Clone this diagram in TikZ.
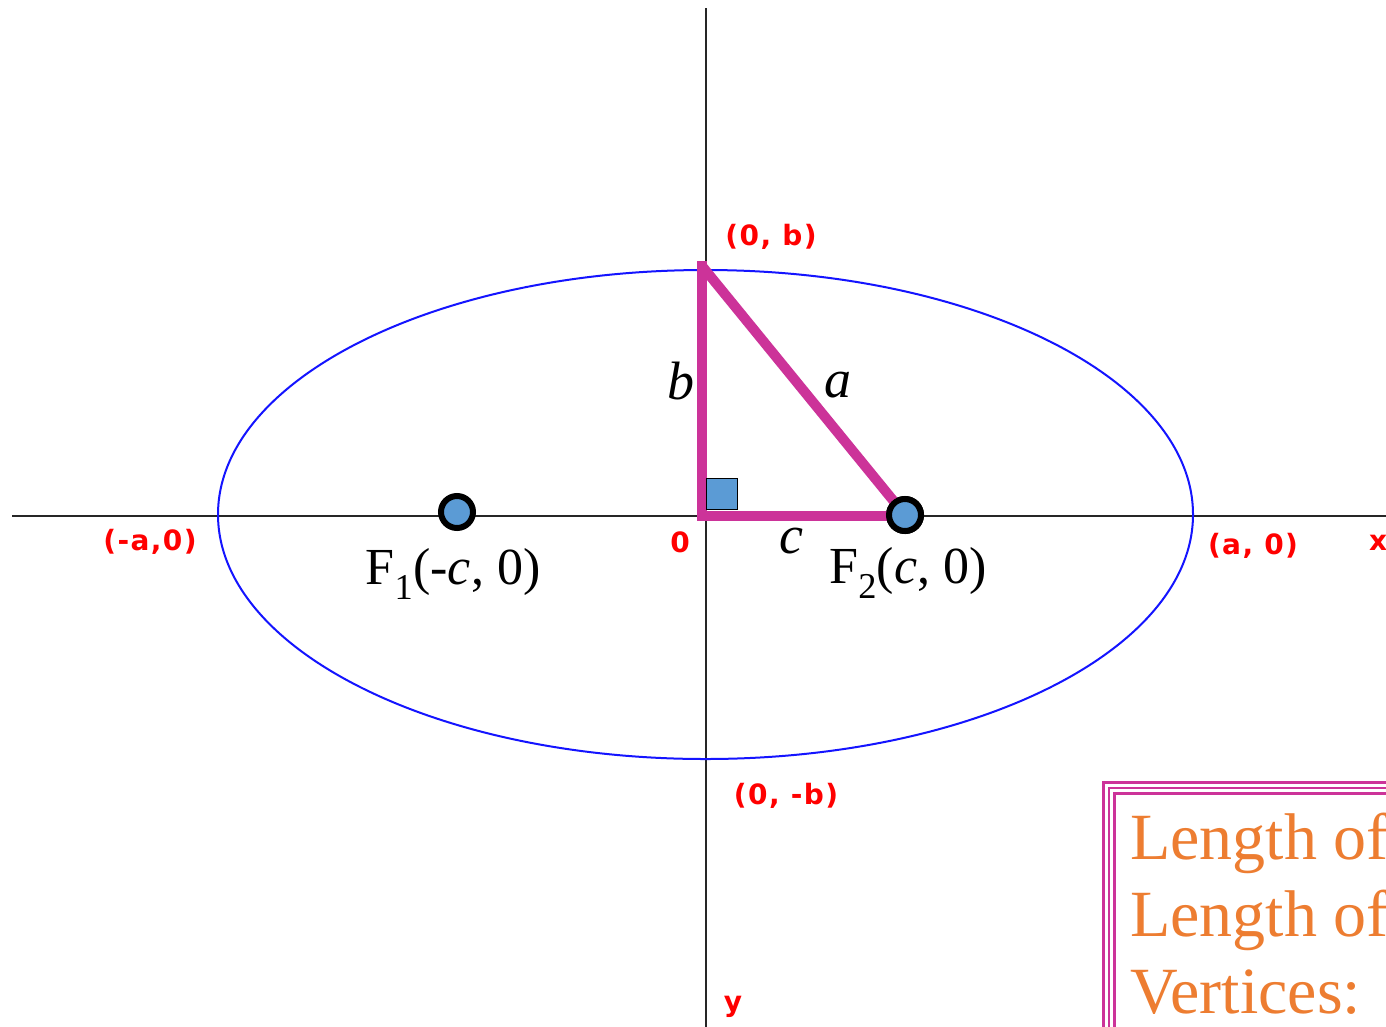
\documentclass[tikz,border=0pt]{standalone}
\usepackage{fontspec}
\setmainfont{Liberation Serif}
\newfontfamily\redfont[LetterSpace=5]{DejaVu Sans}
\definecolor{magline}{RGB}{204,51,153}
\definecolor{dotblue}{RGB}{91,155,213}
\definecolor{ellblue}{RGB}{20,20,255}
\definecolor{lblred}{RGB}{255,0,0}
\definecolor{boxorange}{RGB}{237,125,49}
\begin{document}
\begin{tikzpicture}[x=1pt,y=-1pt,
  axis/.style={draw=black!85,line width=1.8pt},
  redlbl/.style={text=lblred,font=\redfont\bfseries\fontsize{28}{30}\selectfont,inner sep=0pt},
  mathlbl/.style={font=\fontsize{54}{60}\selectfont\itshape,inner sep=0pt},
  focuslbl/.style={font=\fontsize{52}{58}\selectfont,inner sep=0pt},
  focusdot/.style={circle,draw=black,line width=6pt,fill=dotblue,minimum size=32pt,inner sep=0pt},
  tri/.style={draw=magline,line width=10pt}]
\useasboundingbox (0,0) rectangle (1386,1026);
\clip (0,0) rectangle (1386,1026);
\fill[white] (0,0) rectangle (1386,1026);
% axes
\coordinate (xl) at (12,516);
\coordinate (xr) at (1400,516);
\coordinate (yt) at (706,8);
\coordinate (yb) at (706,1040);
\draw[axis] (xl) -- (xr);
\draw[axis] (yt) -- (yb);
% ellipse
\draw[ellblue,line width=2pt] (705.5,514.5) ellipse [x radius=487.5pt, y radius=244.5pt];
% triangle
\coordinate (top) at (702,266);
\coordinate (orig) at (702,516);
\node[focusdot] (F2) at (905,515) {};
\node[focusdot] (F1) at (457,512) {};
\coordinate (corner) at (orig -| F2);
\draw[tri,line join=miter,line cap=rect] (top) -- (orig) -- (corner);
\draw[tri] (top) -- (F2.center);
\node[focusdot] at (F2) {};
\node[draw=black,line width=1.2pt,fill=dotblue,minimum size=31pt,inner sep=0pt,anchor=south west] (sq) at (706,510) {};
% labels
\node[mathlbl] (lb) at (681,381) {b};
\node[mathlbl] (la) at (838,385) {a};
\node[mathlbl] (lc) at (791,541) {c};
\node[focuslbl] (f1l) at (453,574) {F\textsubscript{1}(-\textit{c}, 0)};
\node[focuslbl] (f2l) at (908,573) {F\textsubscript{2}(\textit{c}, 0)};
\node[redlbl] (l0b) at (771,237) {(0, b)};
\node[redlbl] (lma) at (150,542) {(-a,0)};
\node[redlbl] (lo) at (680,542) {0};
\node[redlbl] (lpa) at (1253,546) {(a, 0)};
\node[redlbl,anchor=west] (lx) at (1369,543) {x};
\node[redlbl] (lmb) at (786,796) {(0, -b)};
\node[redlbl] (ly) at (733,1007) {y};
% box
\draw[magline,line width=3pt] (1103.5,782.5) rectangle (1420,1060);
\draw[magline,line width=2pt] (1109,788) rectangle (1420,1060);
\draw[magline,line width=3pt] (1114.5,793.5) rectangle (1420,1060);
\node[anchor=base west,text=boxorange,font=\fontsize{66}{77}\selectfont,inner sep=0pt] (t1) at (1130,859) {Length of};
\node[anchor=base west,text=boxorange,font=\fontsize{66}{77}\selectfont,inner sep=0pt] (t2) at (1130,936) {Length of};
\node[anchor=base west,text=boxorange,font=\fontsize{66}{77}\selectfont,inner sep=0pt] (t3) at (1130,1013) {Vertices:};
\end{tikzpicture}
\end{document}
